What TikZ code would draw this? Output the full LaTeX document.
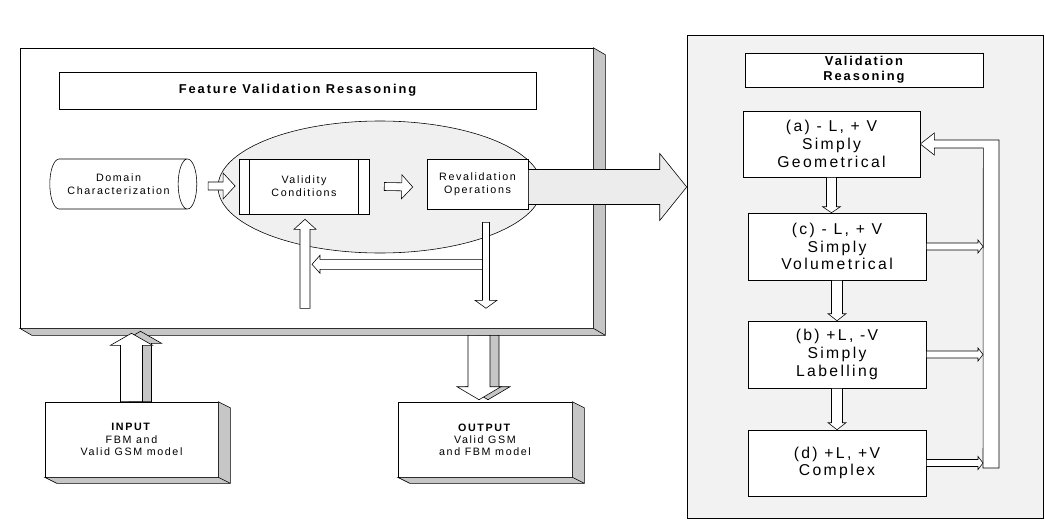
\documentclass[tikz,border=0pt]{standalone}
\usepackage{fontspec}
\setmainfont{Liberation Sans}
\newfontfamily\spc[LetterSpace=15]{Liberation Sans}
\usetikzlibrary{shapes.geometric,calc}

% hollow block arrow: [style]{from}{to}{shaft half width}{head half width}{head length}
\newcommand\blockarrow[6][]{%
  \draw[fill=white,#1] let \p1=(#2), \p2=(#3),
      \n1={atan2(\y2-\y1,\x2-\x1)}, \n2={veclen(\x2-\x1,\y2-\y1)} in
    ([shift={(\p1)},rotate=\n1]0pt,{#4*0.7pt}) -- ([shift={(\p1)},rotate=\n1]{\n2-#6*0.7pt},{#4*0.7pt})
    -- ([shift={(\p1)},rotate=\n1]{\n2-#6*0.7pt},{#5*0.7pt}) -- ([shift={(\p1)},rotate=\n1]{\n2*1pt},0pt)
    -- ([shift={(\p1)},rotate=\n1]{\n2-#6*0.7pt},{-#5*0.7pt}) -- ([shift={(\p1)},rotate=\n1]{\n2-#6*0.7pt},{-#4*0.7pt})
    -- ([shift={(\p1)},rotate=\n1]0pt,{-#4*0.7pt}) -- cycle;
}
% bevelled edge of a 3d box
\newcommand\bevel[3]{%
  \filldraw[fill=gray!45] (#1.south west) -- ++(#2,#3) -- ($(#1.south east)+(#2,#3)$)
    -- ($(#1.north east)+(#2,#3)$) -- (#1.north east) -- (#1.south east) -- cycle;
  \draw (#1.south east) -- ++(#2,#3);
}

\tikzset{
  rbox/.style 2 args={draw, fill=white, minimum width=#1*0.7pt, minimum height=#2*0.7pt,
    inner sep=0pt, align=center},
  smalltxt/.style={font=\spc\fontsize{7.5}{9}\selectfont},
  bigtxt/.style={font=\spc\fontsize{11}{12.5}\selectfont},
  headtxt/.style={font=\spc\bfseries\fontsize{9}{10.5}\selectfont},
}

\begin{document}
\begin{tikzpicture}[x=0.7pt,y=-0.7pt]
  \useasboundingbox (0,0) rectangle (1045,523);

  % left panel
  \node[rbox={573}{280}] (panel) at (306.5,188) {};
  \bevel{panel}{12}{7}
  \node[rbox={477}{37}, headtxt] (fvr) at (297.5,90.5) {Feature Validation Resasoning};

  \node[ellipse, draw, fill=gray!12, minimum width=324*0.7pt, minimum height=132*0.7pt] (ell) at (380,187) {};
  \node[cylinder, draw, fill=white, aspect=0.9, minimum width=50*0.7pt, minimum height=147*0.7pt,
    inner sep=0pt, align=center, smalltxt] (dom) at (118.5,184) {Domain\\Characterization};
  \node[rbox={130}{55}, smalltxt] (cond) at (304,186.5) {Validity\\Conditions};
  \draw ($(cond.north west)+(11,0)$) -- ($(cond.south west)+(11,0)$);
  \draw ($(cond.north east)+(-11,0)$) -- ($(cond.south east)+(-11,0)$);
  \node[rbox={101}{50}, smalltxt] (rev) at (477.5,184) {Revalidation\\Operations};

  \blockarrow{$(dom.east)+(11,2)$}{$(dom.east)+(38,2)$}{4}{13}{12}
  \blockarrow{$(cond.east)+(15,0)$}{$(rev.west)+(-14,3)$}{4}{12}{11}

  % feedback loop
  \blockarrow{$(rev.south)+(5,55)$}{$(cond.south)+(8,50)$}{5}{9}{8}
  \blockarrow{$(cond.south)+(1,94)$}{$(cond.south)+(1,5)$}{5}{11}{10}
  \blockarrow{$(rev.south)+(8.5,13)$}{$(rev.south)+(8.5,99)$}{3.5}{11}{8}

  % input and output
  \node[rbox={173}{75}, font=\spc\fontsize{7.5}{8.5}\selectfont] (inp) at (131.5,439.5)
    {\textbf{INPUT}\\FBM and\\Valid GSM model};
  \bevel{inp}{12}{6}
  \node[rbox={174}{75}, font=\spc\fontsize{7.5}{8.5}\selectfont] (outp) at (485,439.5)
    {\textbf{OUTPUT}\\Valid GSM\\and FBM model};
  \bevel{outp}{12}{6}

  \blockarrow[fill=gray!45]{$(inp.north)+(9,0)$}{$(inp.north |- panel.south)+(9,3)$}{11}{21}{12}
  \blockarrow{inp.north}{$(inp.north |- panel.south)+(0,5)$}{11}{21}{12}
  \blockarrow[fill=gray!45]{$(outp.north |- panel.south)+(3,7)$}{$(outp.north)+(3,-2)$}{11}{22}{13}
  \blockarrow{$(outp.north |- panel.south)+(-6,7)$}{$(outp.north)+(-6,-2)$}{11}{22}{13}

  % right panel
  \node[draw, fill=gray!10, minimum width=356*0.7pt, minimum height=483*0.7pt] (rp) at (865,276.5) {};
  \node[rbox={238}{34}, headtxt] (vr) at (864,70) {Validation\\Reasoning};
  \node[rbox={177}{66}, bigtxt] (ga) at (831.5,144) {(a) - L, + V\\Simply\\Geometrical};
  \node[rbox={178}{67}, bigtxt] (vc) at (837,246.5) {(c) - L, + V\\Simply\\Volumetrical};
  \node[rbox={178}{67}, bigtxt] (sl) at (837,354.5) {(b) +L, -V\\Simply\\Labelling};
  \node[rbox={178}{66}, bigtxt] (cx) at (837,463) {(d) +L, +V\\Complex};

  \blockarrow{ga.south}{ga.south |- vc.north}{5}{9}{6}
  \blockarrow{vc.south}{sl.north}{5.5}{9}{7}
  \blockarrow{sl.south}{cx.north}{5.5}{9}{7}

  \coordinate (bar) at (983,468);
  \draw[fill=white] (bar) -- ++(16,0) |- ($(ga.east)+(14,-4)$) -- ++(0,-7) -- (ga.east)
    -- ++(14,11) -- ++(0,-7) -- ($(ga.east)+(63,4)$) -- cycle;
  \foreach \nd in {vc,sl,cx}
    \blockarrow{\nd.east}{\nd.east -| bar}{3.5}{6.5}{5};

  % into validation reasoning
  \coordinate (tail) at ($(rev.east)+(0,3)$);
  \blockarrow[fill=gray!15]{tail}{tail -| rp.west}{17.5}{33.5}{27}
\end{tikzpicture}
\end{document}
